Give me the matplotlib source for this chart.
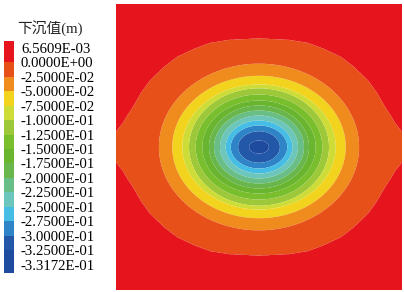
import matplotlib
matplotlib.use("Agg")
import matplotlib.pyplot as plt
import numpy as np

# contour boundaries (settlement, m), innermost first
levels = [-0.325, -0.300, -0.275, -0.250, -0.225, -0.200, -0.175,
          -0.150, -0.125, -0.100, -0.075, -0.050, -0.025, 0.0]
z_min = -0.33172
z_max = 6.5609e-3

# ellipse half-axes of each closed contour (plot units, half span = 143)
half_w = [10, 21, 28.3, 33.3, 39, 45, 50, 56.7, 63.3, 70, 76.7, 86.7, 100]
half_h = [6.7, 15.8, 21.5, 26.5, 31.5, 36.5, 41.5, 46.5, 52.5, 58.7, 62.5, 71.2, 83.3]

# outline of the 0 contour: half height vs horizontal offset
zero_dx = [0, 30, 49, 65, 82, 95, 109, 118, 126, 132, 136, 140, 143, 150]
zero_dy = [108.5, 107, 104, 98, 90, 80, 66.5, 54, 40, 31, 24, 19, 15, 10]

# band colours, lowest band first
colors = ['#1F4B9F', '#2357A8', '#2F84C7', '#45BDE5', '#6CC6BB', '#69BE87',
          '#68B64C', '#6AB530', '#78BE2D', '#9CC83A', '#CDDC37', '#F2D41F',
          '#F08C1E', '#E8501A', '#E6141C']

# --- build the field from the contour shapes
x = np.linspace(-143, 143, 801)
X, Y = np.meshgrid(x, x)
R = [np.hypot(X / a, Y / b) for a, b in zip(half_w, half_h)]
R.append(np.abs(Y) / np.interp(np.abs(X), zero_dx, zero_dy))
R = np.array(R)
lev = np.array(levels)

k = (R > 1).sum(axis=0)
nb = len(levels)
kk = np.clip(k, 1, nb - 1)
r_in = np.take_along_axis(R, (kk - 1)[None], 0)[0]
r_out = np.take_along_axis(R, kk[None], 0)[0]
f = (r_in - 1) / np.maximum(r_in - r_out, 1e-9)
Z = lev[kk - 1] + np.clip(f, 0, 1) * (lev[kk] - lev[kk - 1])
Z = np.where(k == 0, z_min + R[0] * (lev[0] - z_min), Z)
Z = np.where(k == nb, np.minimum((R[-1] - 1) * z_max, 0.99 * z_max) + 1e-6, Z)

fig = plt.figure(figsize=(4.04, 2.92), dpi=100)
ax = fig.add_axes([116 / 404, 2 / 292, 286 / 404, 286 / 292])
ax.contourf(X, Y, Z, levels=[z_min] + levels + [z_max], colors=colors, antialiased=True)
ax.set_xlim(-143, 143)
ax.set_ylim(-143, 143)
ax.axis('off')

# --- legend
lg = fig.add_axes([0, 0, 116 / 404, 1])
lg.set_xlim(0, 116)
lg.set_ylim(292, 0)
lg.axis('off')

tick_vals = [z_max] + levels[::-1] + [z_min]
labels = [f'{v:.4E}' for v in tick_vals]
y0, dy = 49.3, 14.45
label_y = y0 + dy * np.arange(len(labels))
edges = np.concatenate([[41], label_y[1:-1] - 1.5, [273]])
for i in range(len(colors)):
    lg.bar(9, edges[i + 1] - edges[i], bottom=edges[i], width=10,
           color=colors[::-1][i], linewidth=0)
for yy, t in zip(label_y, labels):
    lg.text(21, yy, t, fontsize=10.6, family='Liberation Serif',
            va='center', ha='left', color='black')
lg.text(17, 28, '下沉值(m)', fontsize=10.6, va='center', ha='left',
        family=['Liberation Serif', 'Noto Sans CJK SC'], color='#222222')

fig.savefig('out.png', dpi=100)
